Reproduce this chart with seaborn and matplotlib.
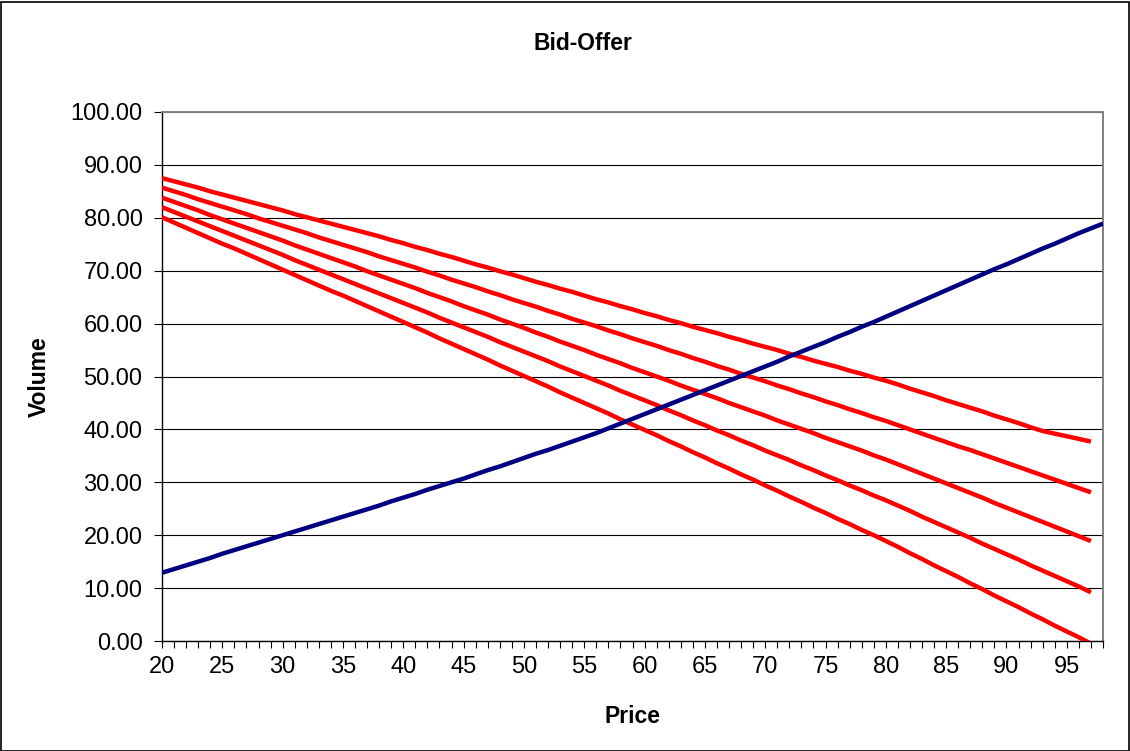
import numpy as np
import pandas as pd
import matplotlib
matplotlib.use("Agg")
import matplotlib.pyplot as plt
import seaborn as sns
from matplotlib.ticker import MultipleLocator, FixedLocator, FuncFormatter
from matplotlib.patches import Rectangle

# Price categories
bid_prices = list(range(20, 99))
offer_prices = list(range(20, 98))

# Bid volume (rising curve)
bid = [12.9, 13.6, 14.3, 15.0, 15.7, 16.5, 17.2, 17.9, 18.6, 19.3, 20.0,
       20.7, 21.4, 22.1, 22.8, 23.5, 24.2, 24.9, 25.6, 26.4, 27.1,
       27.8, 28.6, 29.3, 30.0, 30.7, 31.5, 32.3, 33.0, 33.8, 34.6,
       35.4, 36.1, 36.9, 37.7, 38.5, 39.3, 40.2, 41.1, 42.0, 42.9,
       43.8, 44.7, 45.6, 46.5, 47.4, 48.3, 49.2, 50.1, 51.0, 51.9,
       52.8, 53.8, 54.7, 55.6, 56.5, 57.5, 58.4, 59.4, 60.3, 61.3,
       62.3, 63.3, 64.3, 65.3, 66.3, 67.3, 68.3, 69.3, 70.3, 71.2,
       72.2, 73.2, 74.2, 75.1, 76.1, 77.1, 78.0, 78.9]

# Offer volumes (five falling curves)
offer_1 = [87.5, 86.9, 86.3, 85.7, 85.0, 84.4, 83.8, 83.2, 82.6, 82.0, 81.4,
           80.7, 80.1, 79.5, 78.9, 78.3, 77.7, 77.1, 76.5, 75.8, 75.2,
           74.5, 73.9, 73.2, 72.6, 71.9, 71.2, 70.6, 69.9, 69.3, 68.6,
           67.9, 67.3, 66.6, 66.0, 65.3, 64.6, 64.0, 63.3, 62.7, 62.0,
           61.4, 60.7, 60.1, 59.4, 58.8, 58.2, 57.5, 56.9, 56.2, 55.6,
           55.0, 54.3, 53.7, 53.0, 52.4, 51.8, 51.1, 50.5, 49.8, 49.2,
           48.5, 47.7, 47.0, 46.3, 45.5, 44.8, 44.1, 43.4, 42.6, 41.9,
           41.2, 40.4, 39.7, 39.2, 38.7, 38.2, 37.7]
offer_2 = [85.7, 85.0, 84.3, 83.5, 82.8, 82.1, 81.4, 80.7, 79.9, 79.2, 78.5,
           77.8, 77.1, 76.3, 75.6, 74.9, 74.2, 73.5, 72.7, 72.0, 71.3,
           70.6, 69.8, 69.1, 68.3, 67.6, 66.9, 66.1, 65.4, 64.6, 63.9,
           63.2, 62.4, 61.7, 60.9, 60.2, 59.5, 58.7, 58.0, 57.2, 56.5,
           55.8, 55.0, 54.3, 53.5, 52.8, 52.0, 51.3, 50.5, 49.8, 49.1,
           48.3, 47.6, 46.8, 46.1, 45.3, 44.6, 43.8, 43.1, 42.3, 41.6,
           40.8, 40.0, 39.2, 38.4, 37.6, 36.8, 36.1, 35.3, 34.5, 33.7,
           32.9, 32.1, 31.3, 30.5, 29.7, 28.9, 28.1]
offer_3 = [83.8, 83.0, 82.2, 81.4, 80.5, 79.7, 78.9, 78.1, 77.3, 76.5, 75.7,
           74.8, 74.0, 73.2, 72.4, 71.6, 70.8, 69.9, 69.1, 68.3, 67.5,
           66.7, 65.8, 65.0, 64.2, 63.3, 62.5, 61.7, 60.8, 60.0, 59.2,
           58.3, 57.5, 56.6, 55.8, 55.0, 54.1, 53.3, 52.5, 51.6, 50.8,
           50.0, 49.2, 48.3, 47.5, 46.7, 45.9, 45.0, 44.2, 43.4, 42.6,
           41.7, 40.9, 40.1, 39.3, 38.4, 37.6, 36.8, 36.0, 35.1, 34.3,
           33.4, 32.5, 31.6, 30.7, 29.8, 28.9, 28.0, 27.1, 26.1, 25.2,
           24.3, 23.4, 22.5, 21.6, 20.7, 19.8, 18.9]
offer_4 = [82.0, 81.1, 80.2, 79.3, 78.4, 77.5, 76.6, 75.7, 74.8, 73.9, 73.0,
           72.0, 71.1, 70.2, 69.3, 68.4, 67.5, 66.6, 65.7, 64.8, 63.9,
           63.0, 62.1, 61.1, 60.2, 59.3, 58.4, 57.5, 56.5, 55.6, 54.7,
           53.8, 52.9, 51.9, 51.0, 50.1, 49.2, 48.3, 47.3, 46.4, 45.5,
           44.6, 43.6, 42.7, 41.7, 40.8, 39.8, 38.9, 37.9, 37.0, 36.0,
           35.1, 34.2, 33.2, 32.3, 31.3, 30.4, 29.4, 28.5, 27.5, 26.6,
           25.6, 24.6, 23.5, 22.5, 21.5, 20.5, 19.5, 18.4, 17.4, 16.4,
           15.4, 14.3, 13.3, 12.3, 11.3, 10.3, 9.2]
offer_5 = [80.1, 79.1, 78.1, 77.1, 76.1, 75.1, 74.2, 73.2, 72.2, 71.2, 70.2,
           69.2, 68.2, 67.2, 66.2, 65.3, 64.3, 63.3, 62.3, 61.3, 60.3,
           59.3, 58.3, 57.2, 56.2, 55.2, 54.2, 53.2, 52.1, 51.1, 50.1,
           49.1, 48.1, 47.0, 46.0, 45.0, 44.0, 43.0, 41.9, 40.9, 39.9,
           38.9, 37.8, 36.8, 35.7, 34.7, 33.6, 32.6, 31.5, 30.5, 29.4,
           28.4, 27.3, 26.3, 25.2, 24.2, 23.1, 22.1, 21.0, 20.0, 18.9,
           17.8, 16.6, 15.5, 14.3, 13.2, 12.1, 10.9, 9.8, 8.6, 7.5,
           6.4, 5.2, 4.1, 2.9, 1.8, 0.7, -0.5]

y_ticks = [0, 10, 20, 30, 40, 50, 60, 70, 80, 90, 100]
x_tick_labels = [20, 25, 30, 35, 40, 45, 50, 55, 60, 65, 70, 75, 80, 85, 90, 95]

# Long-form table: offers first, bid last so it sits on top
frames = []
for name, vals in [("Offer 1", offer_1), ("Offer 2", offer_2), ("Offer 3", offer_3),
                   ("Offer 4", offer_4), ("Offer 5", offer_5)]:
    frames.append(pd.DataFrame({"Price": offer_prices, "Volume": vals, "Series": name}))
frames.append(pd.DataFrame({"Price": bid_prices, "Volume": bid, "Series": "Bid"}))
df = pd.concat(frames, ignore_index=True)

palette = {"Offer 1": "#FF0000", "Offer 2": "#FF0000", "Offer 3": "#FF0000",
           "Offer 4": "#FF0000", "Offer 5": "#FF0000", "Bid": "#000080"}
hue_order = ["Offer 1", "Offer 2", "Offer 3", "Offer 4", "Offer 5", "Bid"]

sns.set_style("white")
plt.rcParams["font.family"] = ["Liberation Sans", "DejaVu Sans"]
plt.rcParams["text.color"] = "black"
plt.rcParams["axes.labelcolor"] = "black"
plt.rcParams["xtick.color"] = "black"
plt.rcParams["ytick.color"] = "black"

fig = plt.figure(figsize=(11.30, 7.51), dpi=100)
ax = fig.add_axes([162 / 1130, 1 - 641 / 751, (1103 - 162) / 1130, (641 - 112) / 751])

sns.lineplot(data=df, x="Price", y="Volume", hue="Series", hue_order=hue_order,
             palette=palette, linewidth=3.2, legend=False, sort=False, ax=ax,
             solid_capstyle="butt", zorder=3)

ax.set_xlim(20, 98)
ax.set_ylim(0, 100)

# Gridlines and ticks
ax.set_yticks(y_ticks)
ax.yaxis.set_major_formatter(FuncFormatter(lambda v, p: f"{v:.2f}"))
ax.xaxis.set_major_locator(FixedLocator(x_tick_labels))
ax.xaxis.set_minor_locator(MultipleLocator(1))
ax.grid(axis="y", which="major", color="black", linewidth=0.8, zorder=1)
ax.grid(axis="x", visible=False)
ax.set_axisbelow(True)

ax.tick_params(axis="y", which="major", direction="out", length=6, width=0.8,
               colors="black", labelsize=17, pad=8, left=True)
ax.tick_params(axis="x", which="both", direction="out", length=5, width=0.8,
               colors="black", labelsize=17, pad=6, bottom=True)

for side in ["left", "bottom"]:
    ax.spines[side].set_color("black")
    ax.spines[side].set_linewidth(1.0)
for side in ["top", "right"]:
    ax.spines[side].set_visible(True)
    ax.spines[side].set_color("#808080")
    ax.spines[side].set_linewidth(1.4)

ax.set_xlabel("Price", fontsize=16.5, fontweight="bold", color="black")
ax.set_ylabel("Volume", fontsize=16.5, fontweight="bold", color="black")
ax.xaxis.set_label_coords(0.5, -0.121)
ax.yaxis.set_label_coords(-0.118, 0.5)

fig.text(583 / 1130, 1 - 43 / 751, "Bid-Offer", fontsize=16.5, fontweight="bold",
         ha="center", va="center", color="black")

# Chart area frame
fig.patches.append(Rectangle((0.5 / 1130, 0.5 / 751), 1 - 2 / 1130, 1 - 2 / 751,
                             transform=fig.transFigure, fill=False,
                             edgecolor="black", linewidth=1.2))

fig.savefig("out.png", dpi=100, facecolor="white")
